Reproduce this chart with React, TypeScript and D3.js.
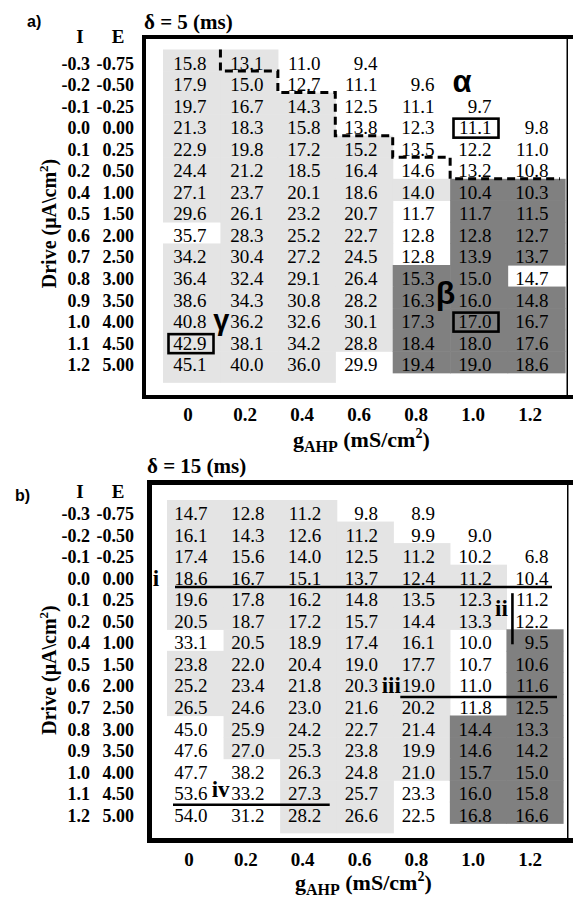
import React from 'react';
import * as d3 from 'd3';

const gAhpTicks = ['0', '0.2', '0.4', '0.6', '0.8', '1.0', '1.2'];
const iDrive = ['-0.3', '-0.2', '-0.1', '0.0', '0.1', '0.2', '0.4', '0.5', '0.6', '0.7', '0.8', '0.9', '1.0', '1.1', '1.2'];
const eDrive = ['-0.75', '-0.50', '-0.25', '0.00', '0.25', '0.50', '1.00', '1.50', '2.00', '2.50', '3.00', '3.50', '4.00', '4.50', '5.00'];

const valuesA: (number | null)[][] = [
  [15.8, 13.1, 11.0, 9.4, null, null, null],
  [17.9, 15.0, 12.7, 11.1, 9.6, null, null],
  [19.7, 16.7, 14.3, 12.5, 11.1, 9.7, null],
  [21.3, 18.3, 15.8, 13.8, 12.3, 11.1, 9.8],
  [22.9, 19.8, 17.2, 15.2, 13.5, 12.2, 11.0],
  [24.4, 21.2, 18.5, 16.4, 14.6, 13.2, 10.8],
  [27.1, 23.7, 20.1, 18.6, 14.0, 10.4, 10.3],
  [29.6, 26.1, 23.2, 20.7, 11.7, 11.7, 11.5],
  [35.7, 28.3, 25.2, 22.7, 12.8, 12.8, 12.7],
  [34.2, 30.4, 27.2, 24.5, 12.8, 13.9, 13.7],
  [36.4, 32.4, 29.1, 26.4, 15.3, 15.0, 14.7],
  [38.6, 34.3, 30.8, 28.2, 16.3, 16.0, 14.8],
  [40.8, 36.2, 32.6, 30.1, 17.3, 17.0, 16.7],
  [42.9, 38.1, 34.2, 28.8, 18.4, 18.0, 17.6],
  [45.1, 40.0, 36.0, 29.9, 19.4, 19.0, 18.6],
];

const shadeA = [
  'LL.....',
  'LL.....',
  'LLL....',
  'LLL....',
  'LLLL...',
  'LLLL...',
  'LLLLLDD',
  'LLLL.DD',
  '.LLL.DD',
  'LLLL.DD',
  'LLLLDD.',
  'LLLLDDD',
  'LLLLDDD',
  'LLLLDDD',
  'LLL.DDD',
];

const valuesB: (number | null)[][] = [
  [14.7, 12.8, 11.2, 9.8, 8.9, null, null],
  [16.1, 14.3, 12.6, 11.2, 9.9, 9.0, null],
  [17.4, 15.6, 14.0, 12.5, 11.2, 10.2, 6.8],
  [18.6, 16.7, 15.1, 13.7, 12.4, 11.2, 10.4],
  [19.6, 17.8, 16.2, 14.8, 13.5, 12.3, 11.2],
  [20.5, 18.7, 17.2, 15.7, 14.4, 13.3, 12.2],
  [33.1, 20.5, 18.9, 17.4, 16.1, 10.0, 9.5],
  [23.8, 22.0, 20.4, 19.0, 17.7, 10.7, 10.6],
  [25.2, 23.4, 21.8, 20.3, 19.0, 11.0, 11.6],
  [26.5, 24.6, 23.0, 21.6, 20.2, 11.8, 12.5],
  [45.0, 25.9, 24.2, 22.7, 21.4, 14.4, 13.3],
  [47.6, 27.0, 25.3, 23.8, 19.9, 14.6, 14.2],
  [47.7, 38.2, 26.3, 24.8, 21.0, 15.7, 15.0],
  [53.6, 33.2, 27.3, 25.7, 23.3, 16.0, 15.8],
  [54.0, 31.2, 28.2, 26.6, 22.5, 16.8, 16.6],
];

const shadeB = [
  'LLL....',
  'LLLL...',
  'LLLLL..',
  'LLLLLL.',
  'LLLLLL.',
  'LLLLLL.',
  '.LLLL.D',
  'LLLLL.D',
  'LLLLL.D',
  'LLLLL.D',
  '.LLLLDD',
  '.LLLLDD',
  '..LLLDD',
  '..LL.DD',
  '..LL.DD',
];

// staircase boundary in panel a: [column edge, row edge]
const boundaryA: [number, number][] = [
  [1, 0], [1, 1], [2, 1], [2, 2], [3, 2], [3, 4], [4, 4], [4, 5], [5, 5], [5, 6], [7, 6],
];
// boxed cells in panel a: [row, col]
const boxedA: [number, number][] = [[3, 5], [12, 5], [13, 0]];

const SERIF = '"Liberation Serif", "Times New Roman", serif';
const SANS = '"Liberation Sans", Arial, sans-serif';
const LIGHT = '#e4e4e4';
const DARK = '#808080';
const ROWH = 21.55;

function scalesFor(top: number, x0: number, x1: number, tx0: number) {
  const col = d3.scaleBand<number>().domain(d3.range(7)).range([x0, x1]);
  const row = d3.scaleBand<number>().domain(d3.range(15)).range([top, top + 15 * ROWH]);
  const tx = d3.scaleLinear().domain([0, 6]).range([tx0, 532]);
  return { col, row, tx };
}

type S = ReturnType<typeof scalesFor>;

function Grid({ values, shade, s }: { values: (number | null)[][]; shade: string[]; s: S }) {
  const rects: React.ReactNode[] = [];
  shade.forEach((rs, r) =>
    rs.split('').forEach((ch, c) => {
      if (ch === '.') return;
      const extra = ch === 'L' && r === shade.length - 1 ? 9.5 : 0;
      rects.push(
        <rect key={`r${r}-${c}`} x={s.col(c)} y={s.row(r)} width={s.col.bandwidth() + 0.6}
          height={s.row.bandwidth() + 0.6 + extra} fill={ch === 'L' ? LIGHT : DARK} />
      );
    })
  );
  const texts: React.ReactNode[] = [];
  values.forEach((rv, r) =>
    rv.forEach((v, c) => {
      if (v === null) return;
      texts.push(
        <text key={`t${r}-${c}`} x={s.tx(c) + 16.6} y={(s.row(r) as number) + 20} textAnchor="end"
          fontFamily={SERIF} fontSize={19} fill="#000">{v.toFixed(1)}</text>
      );
    })
  );
  return <g>{rects}{texts}</g>;
}

function Axes({ s, headY, ix, ex, tickY, titleX, titleY, yTitleY }: any) {
  return (
    <g fontFamily={SERIF} fontWeight="bold" fill="#000">
      <text x={ix - 10} y={headY} fontSize={19} textAnchor="middle">I</text>
      <text x={ex - 16} y={headY} fontSize={19} textAnchor="middle">E</text>
      {iDrive.map((t, r) => (
        <text key={'i' + r} x={ix} y={(s.row(r) as number) + 20} fontSize={18} textAnchor="end">{t}</text>
      ))}
      {eDrive.map((t, r) => (
        <text key={'e' + r} x={ex} y={(s.row(r) as number) + 20} fontSize={18} textAnchor="end">{t}</text>
      ))}
      {gAhpTicks.map((t, c) => (
        <text key={'g' + c} x={s.tx(c) - 2} y={tickY} fontSize={19} textAnchor="middle">{t}</text>
      ))}
      <text x={titleX} y={titleY} fontSize={22}>
        <tspan>g</tspan>
        <tspan fontSize={16} dy={5}>AHP</tspan>
        <tspan dy={-5}> (mS/cm</tspan>
        <tspan fontSize={14} dy={-9}>2</tspan>
        <tspan dy={9}>)</tspan>
      </text>
      <text transform={`translate(56,${yTitleY}) rotate(-90)`} fontSize={20} textAnchor="middle">
        <tspan>Drive (μA\cm</tspan>
        <tspan fontSize={13} dy={-8}>2</tspan>
        <tspan dy={8}>)</tspan>
      </text>
    </g>
  );
}

export default function App() {
  const sa = scalesFor(49.5, 163, 565, 190);
  const sb = scalesFor(500, 167, 563, 191);

  const edgeX = (s: S, c: number) => (c >= 7 ? (s.col(6) as number) + s.col.bandwidth() - 5 : (s.col(c) as number));
  const edgeY = (s: S, r: number) => (s.row(r) as number);
  const dashPath = d3.line<[number, number]>()
    .x((d) => edgeX(sa, d[0]))
    .y((d) => edgeY(sa, d[1]))(boundaryA) as string;

  const rowTop = (s: S, r: number) => s.row(r) as number;
  const colL = (s: S, c: number) => s.col(c) as number;
  const bw = sb.col.bandwidth();

  return (
    <svg width={573} height={898} style={{ position: 'absolute', left: 0, top: 0, background: '#fff' }}>
      <rect x={0} y={0} width={573} height={898} fill="#fff" />
      {/* ---------- panel a ---------- */}
      <text x={27} y={27} fontFamily={SANS} fontWeight="bold" fontSize={16}>a)</text>
      <text x={144} y={29} fontFamily={SERIF} fontWeight="bold" fontSize={21}>δ = 5 (ms)</text>
      <Grid values={valuesA} shade={shadeA} s={sa} />
      <path d={dashPath} fill="none" stroke="#000" strokeWidth={3} strokeDasharray="8 5" />
      {boxedA.map(([r, c], i) => (
        <rect key={'b' + i} x={sa.tx(c) - 21.5} y={rowTop(sa, r) + 4.5} width={45} height={19}
          fill="none" stroke="#000" strokeWidth={2.6} />
      ))}
      <g fontFamily={SANS} fontWeight="bold" fill="#000" textAnchor="middle">
        <text x={sa.tx(5) - 13} y={rowTop(sa, 1) + 21} fontSize={31}>α</text>
        <text x={(colL(sa, 4) + colL(sa, 5)) / 2 + 24} y={rowTop(sa, 11) + 17} fontSize={32}>β</text>
        <text x={colL(sa, 1) + 1} y={rowTop(sa, 12) + 22} fontSize={29}>γ</text>
      </g>
      <rect x={142} y={35} width={431} height={4} fill="#000" />
      <rect x={142} y={35} width={4} height={364} fill="#000" />
      <rect x={142} y={395} width={431} height={4} fill="#000" />
      <rect x={566.5} y={35} width={1.5} height={364} fill="#000" />
      <Axes s={sa} headY={43} ix={90} ex={134} tickY={421} titleX={293} titleY={447} yTitleY={223.5} />

      {/* ---------- panel b ---------- */}
      <text x={15} y={501} fontFamily={SANS} fontWeight="bold" fontSize={16}>b)</text>
      <text x={147} y={473} fontFamily={SERIF} fontWeight="bold" fontSize={21}>δ = 15 (ms)</text>
      <Grid values={valuesB} shade={shadeB} s={sb} />
      <g stroke="#000" strokeWidth={2.6}>
        <line x1={colL(sb, 0) + 8} x2={colL(sb, 6) + bw - 11} y1={rowTop(sb, 4) + 0.8} y2={rowTop(sb, 4) + 0.8} />
        <line x1={colL(sb, 6) + 6} x2={colL(sb, 6) + 6} y1={rowTop(sb, 4) + 7} y2={rowTop(sb, 6) + 15} />
        <line x1={colL(sb, 4) + 7} x2={colL(sb, 6) + bw - 6} y1={rowTop(sb, 9) + 3} y2={rowTop(sb, 9) + 3} />
        <line x1={colL(sb, 0) + 6} x2={colL(sb, 2) + bw - 7} y1={rowTop(sb, 14) + 3} y2={rowTop(sb, 14) + 3} />
      </g>
      <g fontFamily={SERIF} fontWeight="bold" fontSize={23} fill="#000" textAnchor="middle">
        <text x={colL(sb, 0) - 11} y={rowTop(sb, 3) + 21}>i</text>
        <text x={colL(sb, 6) - 5} y={rowTop(sb, 4) + 30}>ii</text>
        <text x={colL(sb, 4) - 2} y={rowTop(sb, 8) + 21}>iii</text>
        <text x={colL(sb, 1) - 3} y={rowTop(sb, 13) + 17}>iv</text>
      </g>
      <rect x={147} y={480} width={426} height={5} fill="#000" />
      <rect x={147} y={480} width={5} height={363} fill="#000" />
      <rect x={147} y={838} width={426} height={5} fill="#000" />
      <rect x={567} y={480} width={1.5} height={363} fill="#000" />
      <Axes s={sb} headY={498} ix={90} ex={134} tickY={866} titleX={295} titleY={890} yTitleY={670} />
    </svg>
  );
}
